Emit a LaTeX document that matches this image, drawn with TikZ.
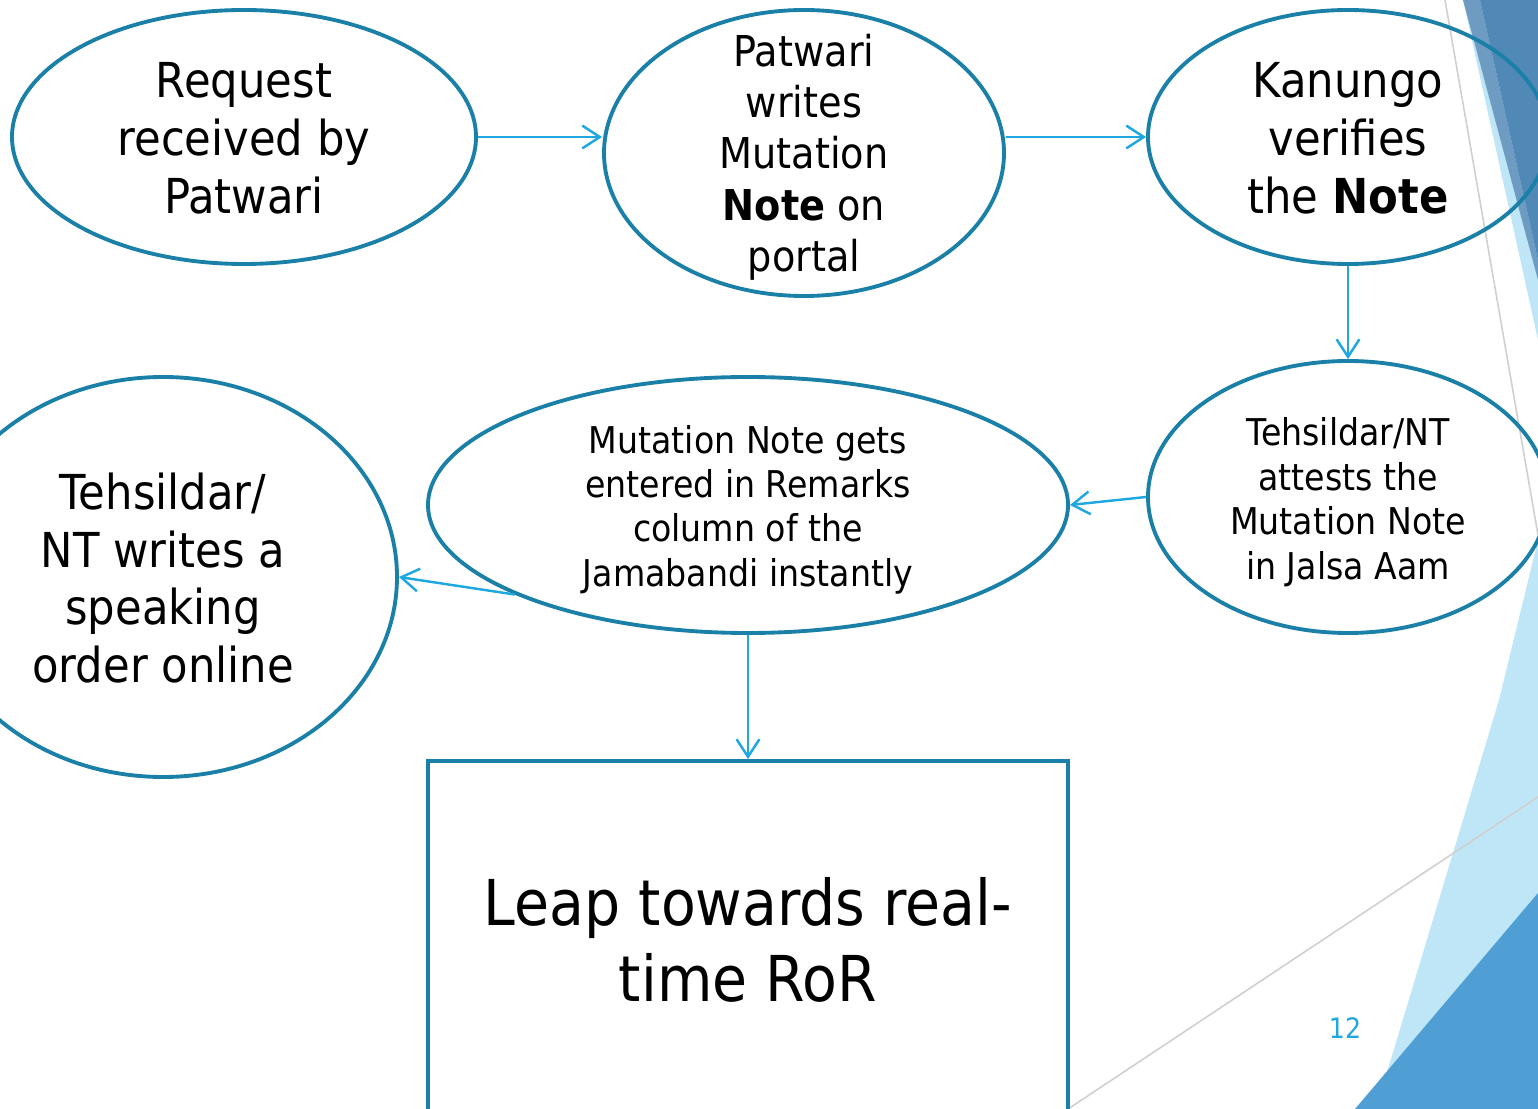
\documentclass[tikz,border=0pt]{standalone}
\usepackage{fontspec}
\setmainfont{DejaVu Sans}[FakeStretch=0.9]
\usepackage{xcolor}
\usetikzlibrary{shapes.geometric,arrows.meta}

\definecolor{ellblue}{HTML}{1A80A8}
\definecolor{arrblue}{HTML}{1FA8E0}
\definecolor{deckdark}{HTML}{5189B6}
\definecolor{deckmid}{HTML}{6E9BC2}
\definecolor{decklight}{HTML}{BEE6F6}
\definecolor{deckbottom}{HTML}{509FD4}
\definecolor{deckgray}{HTML}{CFCFCF}

\begin{document}
\begin{tikzpicture}[main_node/.style={ellipse,draw=ellblue,line width=1.1pt,inner sep=0pt},
box_node/.style={rectangle,draw=ellblue,line width=1.1pt,inner sep=0pt},
text_node/.style={align=center,inner sep=0pt,text=black},
arrow_line/.style={draw=arrblue,line width=0.7pt,-{Straight Barb[length=5pt,width=6.5pt]}}]

\useasboundingbox (0,0) rectangle (15.38,-11.09);

% slide decoration
\fill[decklight] (14.63,0) -- (15.38,0) -- (15.38,-3.40) -- cycle;
\fill[deckmid] (14.63,0) -- (14.80,0) -- (15.38,-2.60) -- (15.38,-2.80) -- cycle;
\fill[deckdark] (14.80,0) -- (15.38,0) -- (15.38,-2.60) -- cycle;
\fill[decklight] (15.38,-5.40) -- (14.99,-7.00) -- (13.76,-11.09) -- (15.38,-11.09) -- cycle;
\fill[deckbottom] (13.55,-11.09) -- (15.38,-8.93) -- (15.38,-11.09) -- cycle;
\draw[deckgray,line width=0.45pt] (14.45,0) -- (15.38,-5.35);
\draw[deckgray,line width=0.45pt] (10.68,-11.09) -- (15.38,-7.97);

\node[main_node,minimum width=4.64cm,minimum height=2.54cm] (0) at (2.44,-1.37) {};
\node[main_node,minimum width=4.00cm,minimum height=2.86cm] (1) at (8.04,-1.53) {};
\node[main_node,minimum width=4.00cm,minimum height=2.54cm] (2) at (13.48,-1.37) {};
\node[main_node,minimum width=4.00cm,minimum height=2.72cm] (3) at (13.48,-4.97) {};
\node[main_node,minimum width=6.40cm,minimum height=2.56cm] (4) at (7.48,-5.05) {};
\node[main_node,minimum width=4.68cm,minimum height=4.00cm] (5) at (1.63,-5.77) {};
\node[box_node,minimum width=6.40cm,minimum height=5.00cm] (6) at (7.48,-10.11) {};

\node[text_node,font=\fontsize{13.7}{16.5}\selectfont] (t0) at (2.44,-1.38) {Request\\received by\\Patwari};
\node[text_node,font=\fontsize{12.1}{14.6}\selectfont] (t1) at (8.04,-1.57) {Patwari\\writes\\Mutation\\\textbf{Note} on\\portal};
\node[text_node,font=\fontsize{13.7}{16.5}\selectfont] (t2) at (13.48,-1.38) {Kanungo\\verifies\\the \textbf{Note}};
\node[text_node,font=\fontsize{10.5}{12.7}\selectfont] (t3) at (13.48,-5.02) {Tehsildar/NT\\attests the\\Mutation Note\\in Jalsa Aam};
\node[text_node,font=\fontsize{10.5}{12.6}\selectfont] (t4) at (7.48,-5.095) {Mutation Note gets\\entered in Remarks\\column of the\\Jamabandi instantly};
\node[text_node,font=\fontsize{13.7}{16.4}\selectfont] (t5) at (1.63,-5.78) {Tehsildar/\\NT writes a\\speaking\\order online};
\node[text_node,font=\fontsize{18}{21.6}\selectfont] (t6) at (7.48,-9.40) {Leap towards real-\\time RoR};
\node[text_node,text=arrblue,font=\fontsize{8}{9.6}\selectfont] (pg) at (13.45,-10.28) {12};

 \path[every edge/.style={arrow_line}]
(0.east) edge node {} (0.east -| 1.west)
(1.east |- 2.west) edge node {} (2.west)
(2.south) edge node {} (3.north)
(3.west) edge node {} (4.east)
(4.201.5) edge node {} (5.east)
(4.south) edge node {} (6.north)
;

\end{tikzpicture}
\end{document}
